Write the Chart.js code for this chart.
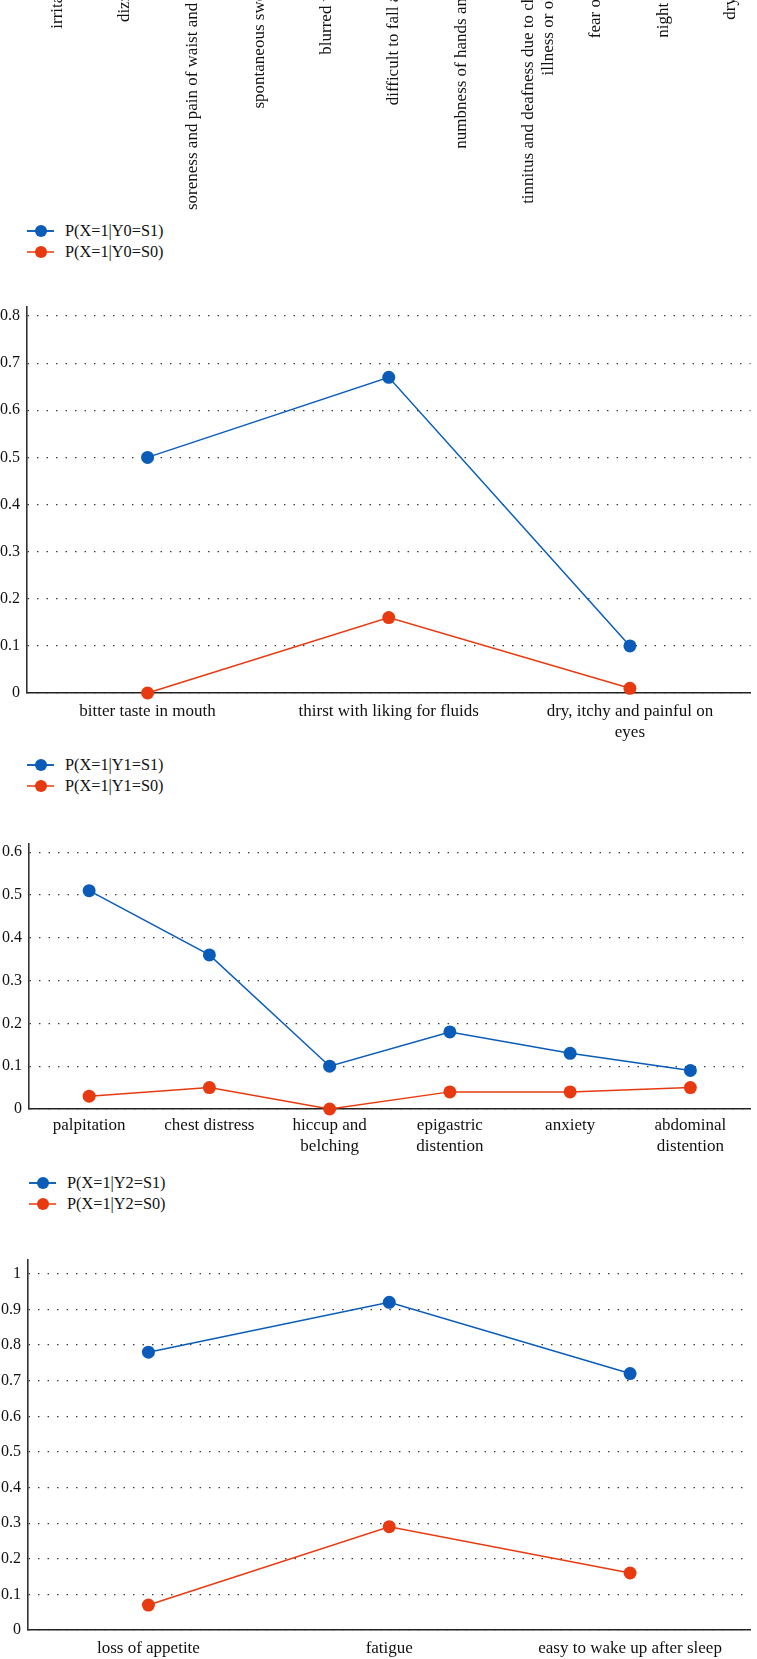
<!DOCTYPE html>
<html>
<head>
<meta charset="utf-8">
<script src="https://cdn.jsdelivr.net/npm/chart.js@4/dist/chart.umd.min.js"></script>
<style>
  html, body { margin: 0; padding: 0; background: #fff; }
  #page { position: relative; width: 757px; height: 1659px; overflow: hidden; }
  canvas, .legend { position: absolute; }
  .legend { font: 16.3px 'Liberation Serif', serif; color: #111; }
  .legend .row { position: relative; height: 21px; line-height: 21px; }
  .legend .line { position: absolute; top: 10px; height: 1.5px; width: 27px; }
  .legend .dot { position: absolute; top: 4.5px; width: 12px; height: 12px; border-radius: 50%; }
  .legend .txt { position: absolute; left: 38px; white-space: nowrap; }
</style>
</head>
<body>
<div id="page">
  <canvas id="prev" width="764" height="800" style="left:0;top:-500px"></canvas>

  <div class="legend" id="leg0" style="left:27px;top:220px"></div>
  <canvas id="c0" width="757" height="463" style="left:0;top:290px"></canvas>

  <div class="legend" id="leg1" style="left:27px;top:754px"></div>
  <canvas id="c1" width="757" height="337" style="left:0;top:827px"></canvas>

  <div class="legend" id="leg2" style="left:29px;top:1172px"></div>
  <canvas id="c2" width="757" height="416" style="left:0;top:1243px"></canvas>
</div>
<script>
// labels of the chart above, only their lower ends are visible
const prevLabels = ['irritability', 'dizziness', 'soreness and pain of waist and knees',
  'spontaneous sweating', 'blurred vision', 'difficult to fall asleep',
  'numbness of hands and feet', ['tinnitus and deafness due to chronic', 'illness or old age'],
  'fear of cold', 'night sweat', 'dry stool'];

const y0Labels = ['bitter taste in mouth', 'thirst with liking for fluids', ['dry, itchy and painful on', 'eyes']];
const y0S1 = [0.50, 0.67, 0.10];
const y0S0 = [0.00, 0.16, 0.01];

const y1Labels = ['palpitation', 'chest distress', ['hiccup and', 'belching'],
  ['epigastric', 'distention'], 'anxiety', ['abdominal', 'distention']];
const y1S1 = [0.51, 0.36, 0.10, 0.18, 0.13, 0.09];
const y1S0 = [0.03, 0.05, 0.00, 0.04, 0.04, 0.05];

const y2Labels = ['loss of appetite', 'fatigue', 'easy to wake up after sleep'];
const y2S1 = [0.78, 0.92, 0.72];
const y2S0 = [0.07, 0.29, 0.16];

const blue = '#0a5cb8';
const red = '#e83a10';

Chart.defaults.font.family = "'Liberation Serif', serif";
Chart.defaults.font.size = 16;
Chart.defaults.color = '#111';
Chart.defaults.animation = false;

// top strip: rotated category labels of the previous panel
var prevChart = new Chart(document.getElementById('prev'), {
  type: 'line',
  data: { labels: prevLabels, datasets: [] },
  options: {
    responsive: false,
    layout: { padding: { left: 24, right: 0, top: 0, bottom: 0 } },
    plugins: { legend: { display: false }, tooltip: { enabled: false } },
    scales: {
      x: {
        offset: true,
        grid: { display: false, drawTicks: false },
        border: { display: false },
        ticks: { autoSkip: false, minRotation: 90, maxRotation: 90, padding: 0,
                 font: { size: 17, lineHeight: 1.2 } }
      },
      y: { display: false }
    }
  }
});
document.getElementById('prev').style.top = (-40 - prevChart.scales.x.top) + 'px';

function legend(id, tag) {
  var el = document.getElementById(id);
  [[blue, '#1a63bd', 'S1'], [red, '#ef6a48', 'S0']].forEach(function (s) {
    var row = document.createElement('div');
    row.className = 'row';
    row.innerHTML = '<span class="line" style="left:0;background:' + s[1] + '"></span>' +
      '<span class="dot" style="left:7.5px;background:' + s[0] + '"></span>' +
      '<span class="txt">P(X=1|' + tag + '=' + s[2] + ')</span>';
    el.appendChild(row);
  });
}
legend('leg0', 'Y0');
legend('leg1', 'Y1');
legend('leg2', 'Y2');

function makeChart(id, labels, s1, s0, max, yWidth, xHeight, padRight, xPad) {
  return new Chart(document.getElementById(id), {
    type: 'line',
    data: {
      labels: labels,
      datasets: [
        { data: s1, borderColor: blue, backgroundColor: blue, borderWidth: 1.5,
          pointRadius: 6.5, pointHoverRadius: 6.5, pointBorderWidth: 0, clip: false },
        { data: s0, borderColor: red, backgroundColor: red, borderWidth: 1.5,
          pointRadius: 6.5, pointHoverRadius: 6.5, pointBorderWidth: 0, clip: false }
      ]
    },
    options: {
      responsive: false,
      layout: { padding: { top: 13, right: padRight, left: 0, bottom: 0 } },
      plugins: { legend: { display: false }, tooltip: { enabled: false } },
      events: [],
      scales: {
        x: {
          offset: true,
          grid: { display: false, drawTicks: false },
          border: { display: true, color: '#222', width: 1.6 },
          ticks: { autoSkip: false, maxRotation: 0, padding: xPad,
                   font: { size: 17, lineHeight: 1.22 } },
          afterFit: function (s) { s.height = xHeight; }
        },
        y: {
          min: 0,
          max: max,
          grid: { color: '#222', lineWidth: 1.2, drawTicks: false },
          border: { display: true, color: '#333', width: 1.6, dash: [1.3, 8.2] },
          ticks: { stepSize: 0.1, includeBounds: false, padding: 7,
                   callback: function (v) { return String(Math.round(v * 10) / 10); } },
          afterFit: function (s) { s.width = yWidth; }
        }
      }
    }
  });
}

var c0 = makeChart('c0', y0Labels, y0S1, y0S0, 0.82, 27, 60, 2, 8);
var c1 = makeChart('c1', y1Labels, y1S1, y1S0, 0.62, 29, 55, 3, 6);
var c2 = makeChart('c2', y2Labels, y2S1, y2S0, 1.04, 28, 29, 3, 8);
</script>
</body>
</html>
